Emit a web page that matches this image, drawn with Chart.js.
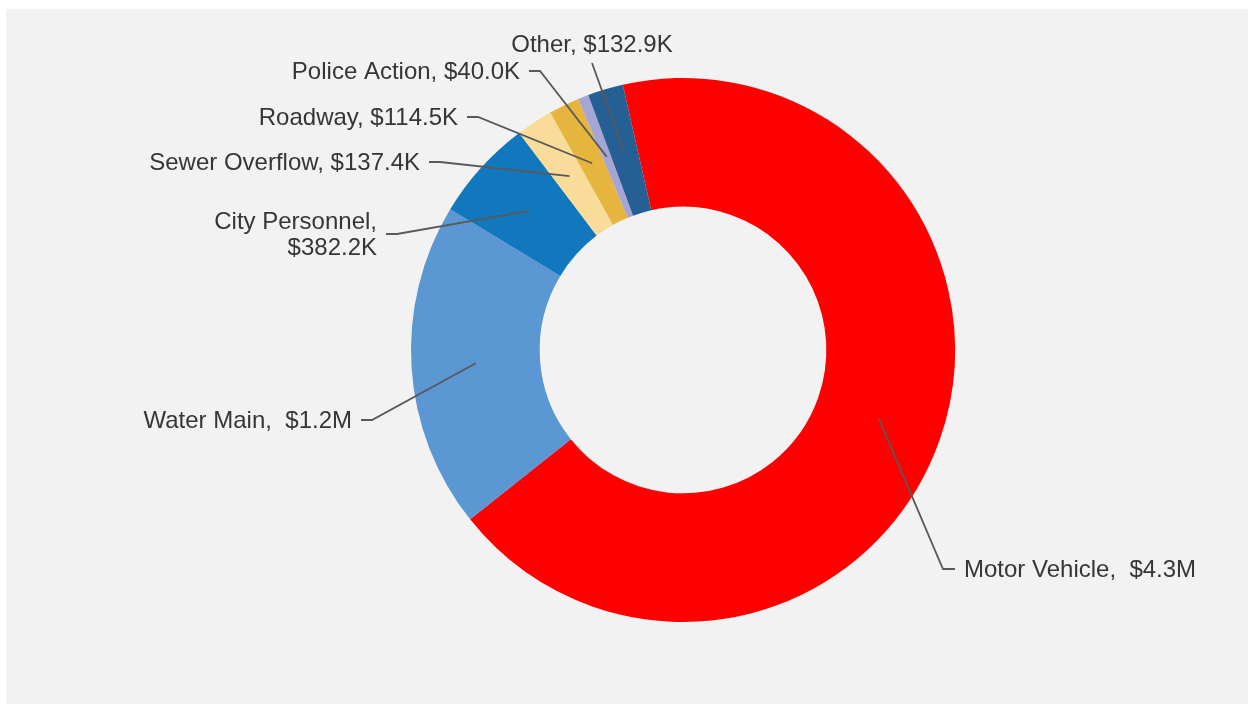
<!DOCTYPE html>
<html>
<head>
<meta charset="utf-8">
<script src="https://cdn.jsdelivr.net/npm/chart.js@4"></script>
<style>
  body { margin: 0; background: #ffffff; }
  canvas { display: block; }
</style>
</head>
<body>
<canvas id="chart" width="1251" height="704"></canvas>
<script>
// data
const categories = ["Motor Vehicle", "Water Main", "City Personnel", "Sewer Overflow", "Roadway", "Police Action", "Other"];
const amounts = [4280000, 1220000, 382200, 137400, 114500, 40000, 132900];
const labelTexts = [
    ["Motor Vehicle,  $4.3M"],
    ["Water Main,  $1.2M"],
    ["City Personnel,", "$382.2K"],
    ["Sewer Overflow, $137.4K"],
    ["Roadway, $114.5K"],
    ["Police Action, $40.0K"],
    ["Other, $132.9K"]
];
const colors = ["#ff0000", "#5b97d2", "#1278be", "#f9db9a", "#e5b53e", "#a5a5d6", "#265f93"];

// where each label sits (text edge x, text middle y, side) - layout only
const labelLayout = [
    { x: 964, y: 570, side: "right" },
    { x: 352, y: 421, side: "left" },
    { x: 377, y: 235, side: "left" },
    { x: 420, y: 163, side: "left" },
    { x: 458, y: 118, side: "left" },
    { x: 520, y: 72, side: "left" },
    { x: 592, y: 45, side: "top" }
];

// 🎨 grey panel behind the chart
const panelPlugin = {
    id: "panel",
    beforeDraw(c) {
        const ctx = c.ctx;
        ctx.save();
        ctx.fillStyle = "#f2f2f2";
        ctx.fillRect(6, 9, 1242, 695);
        ctx.restore();
    }
};

// 🏷️ labels with leader lines
const leaderLabels = {
    id: "leaderLabels",
    afterDatasetsDraw(c) {
        const ctx = c.ctx;
        const meta = c.getDatasetMeta(0);
        ctx.save();
        ctx.font = "24px 'Liberation Sans', Arial, sans-serif";
        ctx.fillStyle = "#363636";
        ctx.strokeStyle = "#595959";
        ctx.lineWidth = 1.8;
        ctx.textBaseline = "middle";

        meta.data.forEach((arc, i) => {
            const p = arc.getCenterPoint();
            const lay = labelLayout[i];
            const lines = labelTexts[i];
            const lh = 26;

            ctx.beginPath();
            if (lay.side === "top") {
                ctx.moveTo(lay.x, lay.y + 18);
            } else if (lay.side === "left") {
                ctx.moveTo(lay.x + 9, lay.y - 1);
                ctx.lineTo(lay.x + 20, lay.y - 1);
            } else {
                ctx.moveTo(lay.x - 9, lay.y - 1);
                ctx.lineTo(lay.x - 21, lay.y - 1);
            }
            ctx.lineTo(p.x, p.y);
            ctx.stroke();

            ctx.textAlign = lay.side === "left" ? "right" : (lay.side === "top" ? "center" : "left");
            const top = lay.y - (lines.length - 1) * lh / 2;
            lines.forEach((t, k) => {
                ctx.fillText(t, lay.x, top + k * lh);
            });
        });
        ctx.restore();
    }
};

new Chart(document.getElementById("chart").getContext("2d"), {
    type: "doughnut",
    data: {
        labels: categories,
        datasets: [{
            data: amounts,
            backgroundColor: colors,
            borderWidth: 0
        }]
    },
    options: {
        responsive: false,
        animation: false,
        rotation: -12.8,
        cutout: "52.7%",
        layout: { padding: { left: 200, right: 85, top: 78, bottom: 82 } },
        plugins: {
            legend: { display: false },
            tooltip: { enabled: false }
        }
    },
    plugins: [panelPlugin, leaderLabels]
});
</script>
</body>
</html>
